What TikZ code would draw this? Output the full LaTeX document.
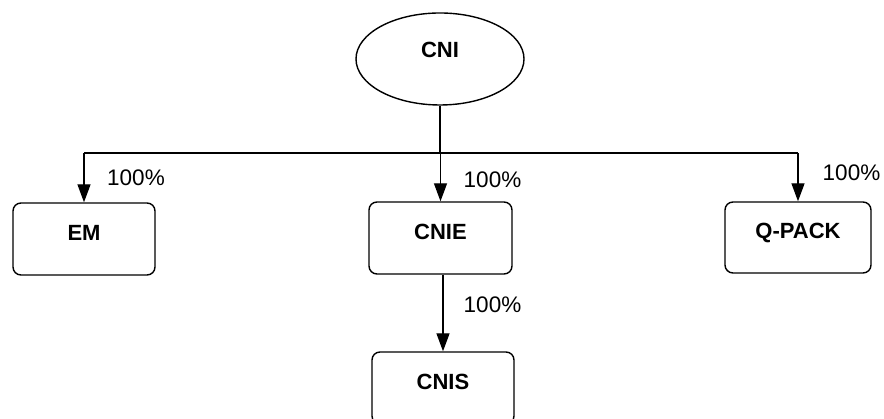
\documentclass[tikz,border=0pt]{standalone}
\usepackage{fontspec}
\setmainfont{Liberation Sans}
\usetikzlibrary{arrows.meta,shapes.geometric}
\begin{document}
\begin{tikzpicture}[x=1pt,y=1pt,
  line width=1.4pt,
  unit/.style={draw, rounded corners=8pt, minimum width=142pt, minimum height=72pt,
    inner sep=0pt, font=\fontsize{22}{25}\selectfont\bfseries},
  share/.style={font=\fontsize{22.5}{25}\selectfont, inner sep=0pt},
  link/.style={-{Triangle[length=18pt,width=13pt]}},
]
\useasboundingbox (0,0) rectangle (884,419);
% parent company
\node[draw, ellipse, minimum width=168pt, minimum height=92pt, inner sep=0pt,
  font=\fontsize{22}{25}\selectfont\bfseries] (cni) at (440,360) {\raisebox{18pt}{CNI}};
% subsidiaries
\node[unit] (em) at (84,180) {\raisebox{12pt}{EM}};
\node[unit, minimum width=143pt] (cnie) at (440.5,181) {\raisebox{13pt}{CNIE}};
\node[unit, minimum width=146pt, minimum height=71pt] (qp) at (798,181.5) {\raisebox{13pt}{Q-PACK}};
\node[unit] (cnis) at (443,31) {\raisebox{13pt}{CNIS}};
% distribution bar
\coordinate (bus) at (440,266);
\draw (cni.south) -- (cni.south |- bus);
\draw (em.north |- bus) -- (qp.north |- bus);
\draw[link] (em.north |- bus) -- (em.north);
\draw[link] (cnie.north |- bus) -- (cnie.north);
\draw[link] (qp.north |- bus) -- (qp.north);
\draw[link] (cnis.north |- cnie.south) -- (cnis.north);
% ownership shares
\node[share] (pem) at (136,241) {100\%};
\node[share] (pcnie) at (492.5,239) {100\%};
\node[share] (pqp) at (851.5,246) {100\%};
\node[share] (pcnis) at (492.5,114) {100\%};
\end{tikzpicture}
\end{document}
